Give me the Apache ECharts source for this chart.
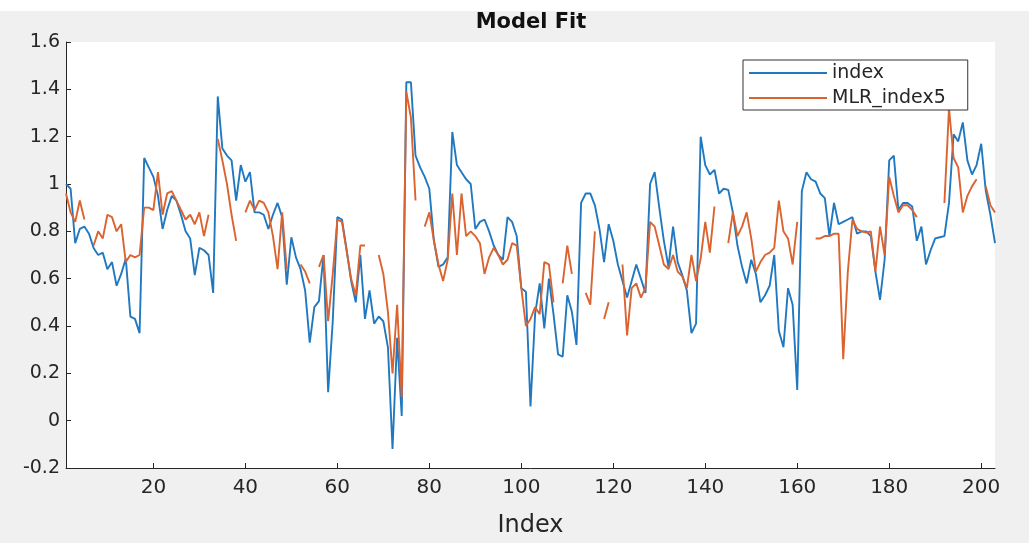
<!DOCTYPE html>
<html><head><meta charset="utf-8">
<script src="https://cdn.jsdelivr.net/npm/echarts@6/dist/echarts.min.js"></script>
<style>html,body{margin:0;padding:0;background:#fff;}#c{width:1029px;height:543px;}</style>
</head><body><div id="c"></div><script>
const chartTitle = 'Model Fit';
const xAxisName = 'Index';
const seriesNames = ['index', 'MLR_index5'];
const xTickValues = [20, 40, 60, 80, 100, 120, 140, 160, 180, 200];
const xMin = 1, xMax = 203;
const yMin = -0.2, yMax = 1.6, yStep = 0.2;

// observed index (blue), one value per index 1..203
const indexValues = [
  1.00, 0.98, 0.75, 0.81, 0.82, 0.79, 0.73, 0.70, 0.71, 0.64,
  0.67, 0.57, 0.62, 0.685, 0.44, 0.43, 0.37, 1.11, 1.07, 1.03,
  0.95, 0.81, 0.89, 0.95, 0.93, 0.87, 0.80, 0.77, 0.615, 0.73,
  0.72, 0.70, 0.54, 1.37, 1.15, 1.12, 1.10, 0.93, 1.08, 1.01,
  1.05, 0.88, 0.88, 0.87, 0.81, 0.87, 0.92, 0.86, 0.575, 0.775,
  0.69, 0.64, 0.55, 0.33, 0.48, 0.505, 0.70, 0.12, 0.42, 0.86,
  0.85, 0.725, 0.59, 0.50, 0.70, 0.43, 0.55, 0.41, 0.44, 0.42,
  0.31, -0.12, 0.35, 0.02, 1.43, 1.43, 1.12, 1.07, 1.03, 0.98,
  0.76, 0.65, 0.66, 0.69, 1.22, 1.08, 1.05, 1.02, 1.00, 0.81,
  0.84, 0.85, 0.80, 0.74, 0.70, 0.68, 0.86, 0.84, 0.78, 0.56,
  0.545, 0.06, 0.45, 0.58, 0.39, 0.60, 0.45, 0.28, 0.27, 0.53,
  0.46, 0.32, 0.92, 0.96, 0.96, 0.91, 0.81, 0.67, 0.83, 0.76,
  0.66, 0.59, 0.52, 0.59, 0.66, 0.60, 0.54, 1.00, 1.05, 0.90,
  0.76, 0.65, 0.82, 0.67, 0.615, 0.55, 0.37, 0.41, 1.20, 1.08,
  1.04, 1.06, 0.96, 0.98, 0.975, 0.88, 0.74, 0.65, 0.58, 0.68,
  0.62, 0.50, 0.53, 0.57, 0.70, 0.38, 0.31, 0.56, 0.49, 0.13,
  0.97, 1.05, 1.02, 1.01, 0.96, 0.94, 0.78, 0.92, 0.83, 0.84,
  0.85, 0.86, 0.79, 0.80, 0.80, 0.78, 0.63, 0.51, 0.68, 1.10,
  1.12, 0.89, 0.92, 0.92, 0.905, 0.76, 0.82, 0.66, 0.72, 0.77,
  0.775, 0.78, 0.92, 1.21, 1.18, 1.26, 1.10, 1.04, 1.08, 1.17,
  0.97, 0.87, 0.75
];

// model fit MLR_index5 (orange), null = gap
const mlrValues = [
  0.96, 0.88, 0.84, 0.93, 0.85, null, 0.74, 0.80, 0.77, 0.87,
  0.86, 0.80, 0.83, 0.67, 0.70, 0.69, 0.70, 0.90, 0.90, 0.89,
  1.05, 0.87, 0.96, 0.97, 0.93, 0.89, 0.85, 0.87, 0.83, 0.88,
  0.78, 0.87, null, 1.19, 1.10, 1.00, 0.87, 0.76, null, 0.88,
  0.93, 0.89, 0.93, 0.92, 0.88, 0.78, 0.64, 0.88, 0.64, null,
  null, 0.66, 0.63, 0.58, null, 0.65, 0.70, 0.42, 0.62, 0.85,
  0.84, 0.72, 0.60, 0.53, 0.74, 0.74, null, null, 0.70, 0.62,
  0.46, 0.20, 0.49, 0.10, 1.39, 1.28, 0.93, null, 0.82, 0.88,
  0.76, 0.66, 0.59, 0.68, 0.96, 0.70, 0.96, 0.78, 0.80, 0.78,
  0.75, 0.62, 0.69, 0.73, 0.70, 0.66, 0.68, 0.75, 0.74, 0.56,
  0.40, 0.43, 0.48, 0.45, 0.67, 0.66, 0.50, null, 0.58, 0.74,
  0.62, null, null, 0.54, 0.49, 0.80, null, 0.43, 0.50, null,
  null, 0.66, 0.36, 0.56, 0.58, 0.52, 0.56, 0.84, 0.82, 0.74,
  0.66, 0.64, 0.70, 0.63, 0.61, 0.56, 0.70, 0.59, 0.685, 0.84,
  0.71, 0.905, null, null, 0.75, 0.88, 0.78, 0.82, 0.88, 0.77,
  0.63, 0.67, 0.70, 0.71, 0.73, 0.93, 0.80, 0.77, 0.66, 0.84,
  null, null, null, 0.77, 0.77, 0.78, 0.78, 0.79, 0.79, 0.26,
  0.63, 0.85, 0.81, 0.80, 0.795, 0.80, 0.63, 0.82, 0.70, 1.03,
  0.95, 0.88, 0.91, 0.91, 0.89, 0.86, null, null, null, null,
  null, 0.92, 1.32, 1.11, 1.07, 0.88, 0.95, 0.99, 1.02, null,
  0.99, 0.91, 0.88
];

const toPairs = vals => vals.map((v, k) => [k + 1, v === null ? '-' : v]);
const axisColor = '#262626';
const fontFam = '"DejaVu Sans", "Liberation Sans", Arial, sans-serif';
const blue = '#2079c0';
const orange = '#db6330';

const chart = echarts.init(document.getElementById('c'), null, {renderer: 'canvas'});
chart.setOption({
  backgroundColor: '#f0f0f0',
  animation: false,
  graphic: [
    {type: 'rect', left: 0, top: 0, shape: {width: 1029, height: 11}, style: {fill: '#ffffff'}, z: 0},
    {type: 'text', x: 531, y: 23, style: {text: chartTitle, fill: '#111', font: 'bold 21px ' + fontFam, textAlign: 'center', textVerticalAlign: 'middle'}}
  ],
  grid: {left: 66, top: 42, right: 34, bottom: 64, show: true, backgroundColor: '#ffffff', borderWidth: 0},
  legend: {
    left: 743, top: 60, orient: 'vertical',
    icon: 'rect', itemWidth: 78, itemHeight: 2, itemGap: 5,
    padding: [3, 22, 2, 6],
    borderColor: '#333', borderWidth: 1, backgroundColor: '#ffffff', borderRadius: 0,
    textStyle: {fontSize: 19, lineHeight: 20, color: '#262626', fontFamily: fontFam},
    data: seriesNames
  },
  xAxis: {
    type: 'value', min: xMin, max: xMax,
    name: xAxisName, nameLocation: 'middle', nameGap: 46,
    nameTextStyle: {fontSize: 24, color: axisColor, fontFamily: fontFam},
    axisLine: {show: true, onZero: false, lineStyle: {color: axisColor, width: 1}},
    axisTick: {show: true, inside: true, length: 5, customValues: xTickValues, lineStyle: {color: axisColor}},
    axisLabel: {customValues: xTickValues, margin: 10, fontSize: 20, color: axisColor, fontFamily: fontFam},
    splitLine: {show: false}
  },
  yAxis: {
    type: 'value', min: yMin, max: yMax, interval: yStep,
    axisLine: {show: true, onZero: false, lineStyle: {color: axisColor, width: 1}},
    axisTick: {show: true, inside: true, length: 5, lineStyle: {color: axisColor}},
    axisLabel: {margin: 6, fontSize: 19, color: axisColor, fontFamily: fontFam,
      formatter: v => String(parseFloat(v.toFixed(1)))},
    splitLine: {show: false}
  },
  series: [
    {name: seriesNames[0], type: 'line', symbol: 'none', connectNulls: false,
     data: toPairs(indexValues), lineStyle: {color: blue, width: 1.9}, itemStyle: {color: blue}, z: 2},
    {name: seriesNames[1], type: 'line', symbol: 'none', connectNulls: false,
     data: toPairs(mlrValues), lineStyle: {color: orange, width: 1.9}, itemStyle: {color: orange}, z: 3}
  ]
});
</script></body></html>
